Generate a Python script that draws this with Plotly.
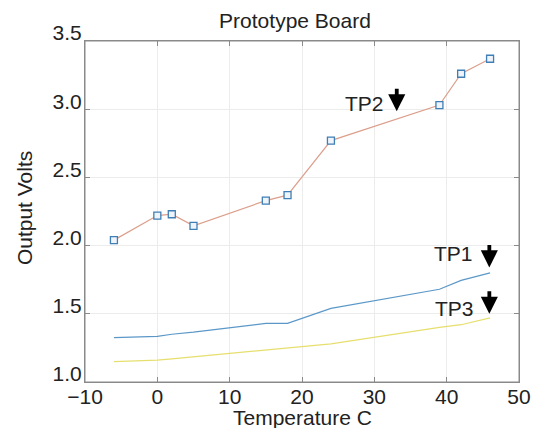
import plotly.graph_objects as go

temps = [-6, 0, 2, 5, 15, 18, 24, 39, 42, 46]
tp2 = [2.04, 2.22, 2.23, 2.145, 2.33, 2.37, 2.77, 3.03, 3.26, 3.37]
tp1 = [1.325, 1.335, 1.35, 1.365, 1.43, 1.43, 1.54, 1.68, 1.745, 1.80]
tp3 = [1.15, 1.16, 1.17, 1.185, 1.23, 1.245, 1.28, 1.40, 1.42, 1.47]

labels = ["TP1", "TP2", "TP3"]
label_x = [41.0, 28.7, 41.1]
label_y = [1.94, 3.04, 1.54]
arrow_x = [45.9, 33.1, 45.9]
arrow_tip = [1.84, 2.985, 1.50]

font = "Liberation Sans, Arial, sans-serif"
fsize = 21

fig = go.Figure()
fig.add_trace(go.Scatter(x=temps, y=tp2, mode="lines+markers",
                         line=dict(color="#dc9f8c", width=1.2),
                         marker=dict(symbol="square", size=7, color="#eef4fa",
                                     line=dict(color="#3f7fb5", width=1.3))))
fig.add_trace(go.Scatter(x=temps, y=tp1, mode="lines",
                         line=dict(color="#5b98c8", width=1.2)))
fig.add_trace(go.Scatter(x=temps, y=tp3, mode="lines",
                         line=dict(color="#e6df6e", width=1.2)))

for t, lx, ly in zip(labels, label_x, label_y):
    fig.add_annotation(x=lx, y=ly, text=t, showarrow=False,
                       font=dict(size=fsize, color="#222", family=font))
for ax_, tip in zip(arrow_x, arrow_tip):
    fig.add_annotation(x=ax_, y=tip, ax=0, ay=-24, text="", showarrow=True,
                       arrowhead=2, arrowsize=0.9, arrowwidth=3.8, arrowcolor="#000")

fig.add_annotation(text="Temperature C", xref="paper", yref="paper", x=0.5, y=-0.104,
                   xanchor="center", yanchor="middle", showarrow=False,
                   font=dict(size=fsize, color="#222", family=font))
fig.add_annotation(text="Output Volts", xref="paper", yref="paper", x=-0.1405, y=0.51,
                   xanchor="center", yanchor="middle", showarrow=False, textangle=-90,
                   font=dict(size=fsize, color="#222", family=font))

# plot frame
fig.add_shape(type="rect", xref="paper", yref="paper", x0=0, y0=0, x1=1, y1=1,
              line=dict(color="#8a8a8a", width=1), layer="above")

axis_common = dict(showline=True, linecolor="#8a8a8a", linewidth=1, mirror="ticks",
                   ticks="inside", ticklen=5, tickcolor="#8a8a8a",
                   showgrid=True, gridcolor="#ececec", gridwidth=1, zeroline=False,
                   tickfont=dict(size=fsize, color="#222", family=font))

fig.update_layout(
    width=531, height=420,
    paper_bgcolor="white", plot_bgcolor="white",
    margin=dict(l=77, r=20, t=33, b=46, autoexpand=False),
    showlegend=False,
    title=dict(text="Prototype Board", xref="container", x=0.5405, xanchor="center",
               yref="container", y=0.970, yanchor="middle",
               font=dict(size=fsize, color="#222", family=font)),
    xaxis=dict(range=[-10, 50], tickvals=[-10, 0, 10, 20, 30, 40, 50],
               ticklabelstandoff=-4, **axis_common),
    yaxis=dict(range=[1.0, 3.5], tickvals=[1.0, 1.5, 2.0, 2.5, 3.0, 3.5], tickformat=".1f",
               ticklabelshift=-8, ticklabelstandoff=-2, **axis_common),
)

fig.write_html("out.html")
